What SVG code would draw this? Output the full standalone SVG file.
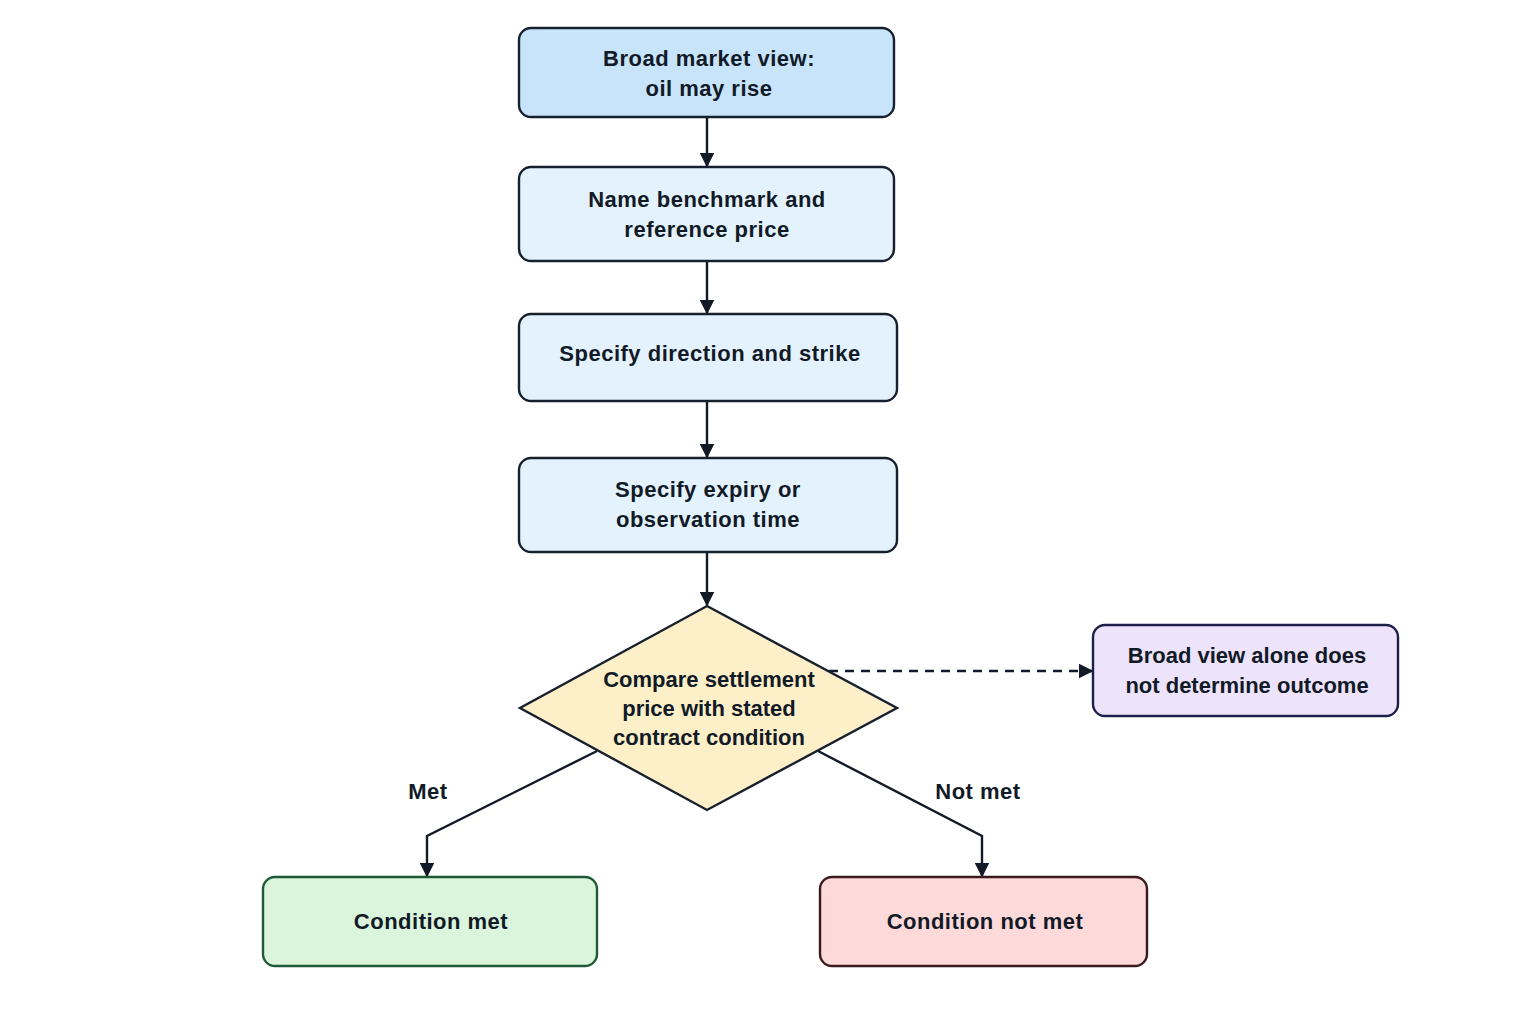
<svg xmlns="http://www.w3.org/2000/svg" width="1536" height="1024" viewBox="0 0 1536 1024">
<style>
text{font-family:"Liberation Sans",Arial,sans-serif;font-weight:bold;font-size:22px;letter-spacing:0.5px;fill:#111a26;text-anchor:middle}
text.tight{letter-spacing:0px}
.box{stroke-width:2.4}
.conn{fill:none;stroke:#111a26;stroke-width:2.4}
</style>
<defs>
<marker id="ah" viewBox="0 0 10 10" refX="9" refY="5" markerWidth="15" markerHeight="15" markerUnits="userSpaceOnUse" orient="auto">
<path d="M0,0 L10,5 L0,10 z" fill="#111a26"/>
</marker>
</defs>
<rect width="1536" height="1024" fill="#ffffff"/>
<g id="connectors">
<line class="conn" x1="707" y1="117" x2="707" y2="166" marker-end="url(#ah)"/>
<line class="conn" x1="707" y1="261" x2="707" y2="313" marker-end="url(#ah)"/>
<line class="conn" x1="707" y1="401" x2="707" y2="457" marker-end="url(#ah)"/>
<line class="conn" x1="707" y1="552" x2="707" y2="605" marker-end="url(#ah)"/>
<line class="conn" x1="829" y1="671" x2="1092" y2="671" stroke-dasharray="9,7" marker-end="url(#ah)"/>
<polyline class="conn" points="597,751 427,836 427,876" marker-end="url(#ah)"/>
<polyline class="conn" points="818,751 982,836 982,876" marker-end="url(#ah)"/>
<text x="428" y="799">Met</text>
<text x="978" y="799">Not met</text>
</g>
<g id="n1">
<rect class="box" x="519" y="28" width="375" height="89" rx="12" fill="#c7e4fb" stroke="#17202e"/>
<text x="709" y="66">Broad market view:</text>
<text x="709" y="96">oil may rise</text>
</g>
<g id="n2">
<rect class="box" x="519" y="167" width="375" height="94" rx="12" fill="#e3f2fd" stroke="#17202e"/>
<text x="707" y="207">Name benchmark and</text>
<text x="707" y="237">reference price</text>
</g>
<g id="n3">
<rect class="box" x="519" y="314" width="378" height="87" rx="12" fill="#e3f2fd" stroke="#17202e"/>
<text x="710" y="361">Specify direction and strike</text>
</g>
<g id="n4">
<rect class="box" x="519" y="458" width="378" height="94" rx="12" fill="#e3f2fd" stroke="#17202e"/>
<text x="708" y="497">Specify expiry or</text>
<text x="708" y="527">observation time</text>
</g>
<g id="n5">
<polygon class="box" points="707,606 897,708 707,810 520,708" fill="#fdf0c8" stroke="#17202e"/>
<text class="tight" x="709" y="687">Compare settlement</text>
<text class="tight" x="709" y="716">price with stated</text>
<text class="tight" x="709" y="745">contract condition</text>
</g>
<g id="n6">
<rect class="box" x="1093" y="625" width="305" height="91" rx="12" fill="#ede4fc" stroke="#1c1f4a"/>
<text class="tight" x="1247" y="663">Broad view alone does</text>
<text class="tight" x="1247" y="693">not determine outcome</text>
</g>
<g id="n7">
<rect class="box" x="263" y="877" width="334" height="89" rx="12" fill="#dbf5dd" stroke="#1f5a35"/>
<text x="431" y="929">Condition met</text>
</g>
<g id="n8">
<rect class="box" x="820" y="877" width="327" height="89" rx="12" fill="#fdd9d9" stroke="#3a1a1a"/>
<text x="985" y="929">Condition not met</text>
</g>
</svg>
